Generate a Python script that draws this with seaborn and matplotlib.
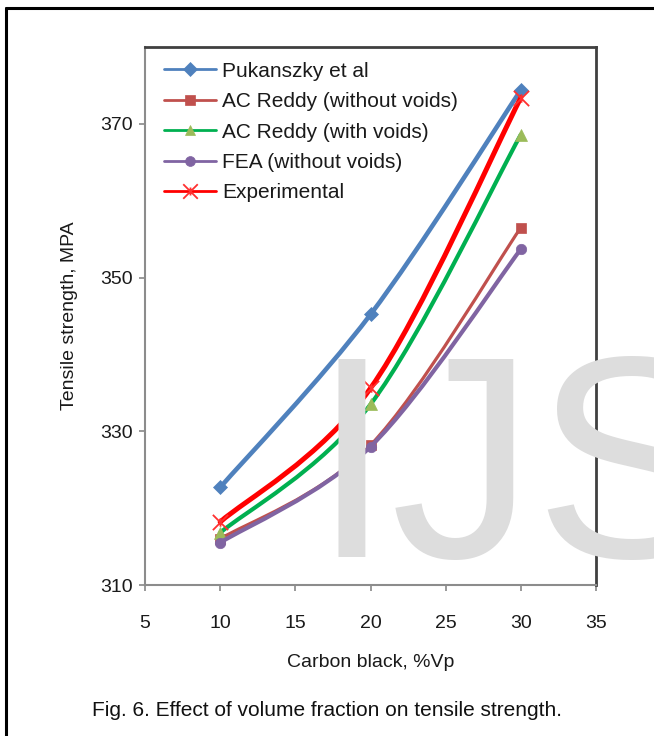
import numpy as np
import pandas as pd
import matplotlib
matplotlib.use("Agg")
import matplotlib.pyplot as plt
import seaborn as sns
from matplotlib.path import Path
from matplotlib.patches import PathPatch
from matplotlib.lines import Line2D

# ---- data ----
carbon_black = [10, 20, 30]
pukanszky = [322.7, 345.2, 374.4]
ac_reddy_without = [316.0, 328.2, 356.5]
ac_reddy_with = [316.8, 333.5, 368.6]
fea_without = [315.5, 328.0, 353.7]
experimental = [318.2, 335.6, 373.4]

series_names = ["Pukanszky et al", "AC Reddy (without voids)", "AC Reddy (with voids)",
                "FEA (without voids)", "Experimental"]
x_ticks = [5, 10, 15, 20, 25, 30, 35]
y_ticks = [310, 330, 350, 370]

sns.set_style("white")
plt.rcParams["font.family"] = ["Liberation Sans", "DejaVu Sans"]

fig = plt.figure(figsize=(6.54, 7.36), dpi=100)
ax = fig.add_axes([145/654, 1-585/736, (596-145)/654, (585-47)/736])
ax.set_facecolor("none")

# star (Excel-like asterisk) marker
star = Path([(-1, -1), (1, 1), (-1, 1), (1, -1), (0, -0.55), (0, 0.55)],
            [Path.MOVETO, Path.LINETO, Path.MOVETO, Path.LINETO, Path.MOVETO, Path.LINETO])

styles = [
    dict(y=pukanszky, lc="#4F81BD", lw=3.3, mk="D", mc="#4F81BD", ms=7, filled=True),
    dict(y=ac_reddy_without, lc="#C0504D", lw=2.3, mk="s", mc="#C0504D", ms=7, filled=True),
    dict(y=ac_reddy_with, lc="#00B050", lw=3.0, mk="^", mc="#9BBB59", ms=8, filled=True),
    dict(y=fea_without, lc="#8064A2", lw=3.0, mk="o", mc="#8064A2", ms=7.5, filled=True),
    dict(y=experimental, lc="#FF0000", lw=3.6, mk=star, mc="#FF3030", ms=11, filled=False),
]


def smooth_path(xs, ys):
    # Excel-style smoothed line (Bezier through data points)
    P = np.column_stack([xs, ys]).astype(float)
    n = len(P)
    verts = [tuple(P[0])]
    codes = [Path.MOVETO]
    for i in range(n - 1):
        p_prev = P[i - 1] if i > 0 else P[i]
        p_next = P[i + 2] if i + 2 < n else P[i + 1]
        c1 = P[i] + (P[i + 1] - p_prev) / 6.0
        c2 = P[i + 1] - (p_next - P[i]) / 6.0
        verts += [tuple(c1), tuple(c2), tuple(P[i + 1])]
        codes += [Path.CURVE4] * 3
    return Path(verts, codes)


handles = []
for k, (name, st) in enumerate(zip(series_names, styles)):
    z = 3 + 2 * k
    patch = PathPatch(smooth_path(carbon_black, st["y"]), facecolor="none",
                      edgecolor=st["lc"], lw=st["lw"], capstyle="round",
                      joinstyle="round", zorder=z)
    ax.add_patch(patch)
    df = pd.DataFrame({"x": carbon_black, "y": st["y"]})
    if st["filled"]:
        sns.lineplot(data=df, x="x", y="y", ax=ax, linestyle="", marker=st["mk"],
                     markersize=st["ms"], markerfacecolor=st["mc"],
                     markeredgecolor=st["mc"], markeredgewidth=0.5, zorder=z + 1)
    else:
        sns.lineplot(data=df, x="x", y="y", ax=ax, linestyle="", marker=st["mk"],
                     markersize=st["ms"], markerfacecolor="none",
                     markeredgecolor=st["mc"], markeredgewidth=1.3, zorder=z + 1)
    handles.append(Line2D([], [], color=st["lc"], lw=2.0, marker=st["mk"],
                          markersize=st["ms"] * 0.95,
                          markerfacecolor=st["mc"] if st["filled"] else "none",
                          markeredgecolor=st["mc"],
                          markeredgewidth=0.5 if st["filled"] else 1.3))

ax.set_xlim(5, 35)
ax.set_ylim(310, 380)
ax.set_xticks(x_ticks)
ax.set_yticks(y_ticks)
ax.tick_params(axis="both", direction="out", length=4, width=1.2, color="#888888",
               labelsize=14, labelcolor="#1a1a1a")
ax.tick_params(axis="x", pad=17.5)
ax.tick_params(axis="y", pad=5)
ax.tick_params(left=True, bottom=True)

for s in ["top", "right"]:
    ax.spines[s].set_color("#404040")
    ax.spines[s].set_linewidth(2.0)
for s in ["left", "bottom"]:
    ax.spines[s].set_color("#8c8c8c")
    ax.spines[s].set_linewidth(1.5)

ax.set_xlabel("Carbon black, %Vp", fontsize=14, color="#1a1a1a", labelpad=16)
ax.set_ylabel("Tensile strength, MPA", fontsize=14, color="#1a1a1a", labelpad=16)

leg = ax.legend(handles, series_names, loc="upper left", frameon=False, fontsize=15,
                handlelength=2.5, handletextpad=0.3, labelspacing=0.55,
                borderaxespad=0.3, bbox_to_anchor=(0.009, 1.0))
for t in leg.get_texts():
    t.set_color("#1a1a1a")

# watermark
fig.text(312/654, 1-557/736, "IJS", fontsize=207, color="#DDDDDD", ha="left",
         va="baseline", zorder=0)

# caption
fig.text(327/654, 1-711/736, "Fig. 6. Effect of volume fraction on tensile strength.",
         fontsize=15, color="#111111", ha="center", va="center")

# outer frame (top and left edges)
fig.add_artist(Line2D([6/654, 6/654], [0, 1-7.5/736], color="black", lw=2.2,
                      transform=fig.transFigure))
fig.add_artist(Line2D([6/654, 1], [1-7.5/736, 1-7.5/736], color="black", lw=2.2,
                      transform=fig.transFigure))

fig.savefig("out.png", dpi=100)
